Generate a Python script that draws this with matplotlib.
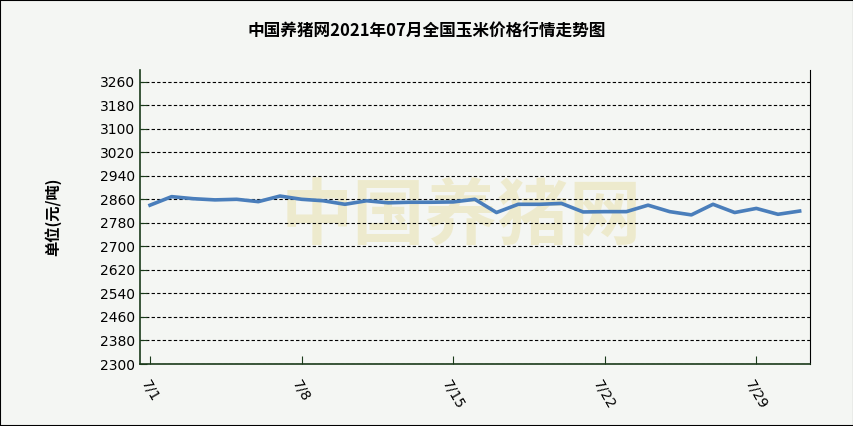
import matplotlib
matplotlib.use("Agg")
import matplotlib.pyplot as plt
from matplotlib.patches import Rectangle

plt.rcParams['font.family'] = ['Noto Sans CJK SC', 'DejaVu Sans']

days = list(range(1, 32))
prices = [2840, 2869, 2862, 2858, 2860, 2852, 2871, 2860, 2855, 2843, 2855, 2848,
          2850, 2850, 2851, 2860, 2815, 2843, 2843, 2846, 2817, 2818, 2818, 2840,
          2818, 2807, 2843, 2815, 2829, 2809, 2820]
tick_days = [1, 8, 15, 22, 29]
tick_labels = ["7/1", "7/8", "7/15", "7/22", "7/29"]
yticks = list(range(2300, 3261, 80))

bg = '#f4f6f3'
fig = plt.figure(figsize=(8.54, 4.26), dpi=100, facecolor=bg)
fig.patches.append(Rectangle((0, 0), 1, 1, transform=fig.transFigure, fill=False,
                             edgecolor='black', linewidth=1.5))
ax = fig.add_axes([0.164, 0.1455, 0.784, 0.6905], facecolor=bg)
ax.plot(days, prices, color='#4a7ebb', linewidth=2.6)
ax.set_xlim(0.54, 31.46)
ax.set_ylim(2300, 3300)
ax.set_yticks(yticks)
ax.set_yticklabels([str(v) for v in yticks], fontsize=10, family='DejaVu Sans')
ax.set_xticks(tick_days)
ax.set_xticklabels(tick_labels, rotation=-60, ha='center', va='top', fontsize=10,
                   family='DejaVu Sans')
ax.tick_params(axis='x', pad=10)
ax.grid(axis='y', color='black', linestyle='--', linewidth=0.8, dashes=(3, 2))
for s in ['left', 'bottom']:
    ax.spines[s].set_color('#1a3a1a')
    ax.spines[s].set_linewidth(1.2)
ax.spines['top'].set_visible(False)
ax.spines['right'].set_color('black')
ax.tick_params(axis='y', length=5, direction='in', color='#1a3a1a')
ax.tick_params(axis='x', length=6, direction='in', color='#1a3a1a')
ax.text(0.48, 0.5, '中国养猪网', transform=ax.transAxes, fontsize=52, color='#e8dfa8',
        alpha=0.5, ha='center', va='center', weight='bold', zorder=0)
ax.set_ylabel('单位(元/吨)', fontsize=11, weight='bold', labelpad=28)
fig.text(0.5, 0.925, '中国养猪网2021年07月全国玉米价格行情走势图', ha='center', va='center',
         fontsize=12, weight='bold')
fig.savefig('out.png', dpi=100, facecolor=bg)
